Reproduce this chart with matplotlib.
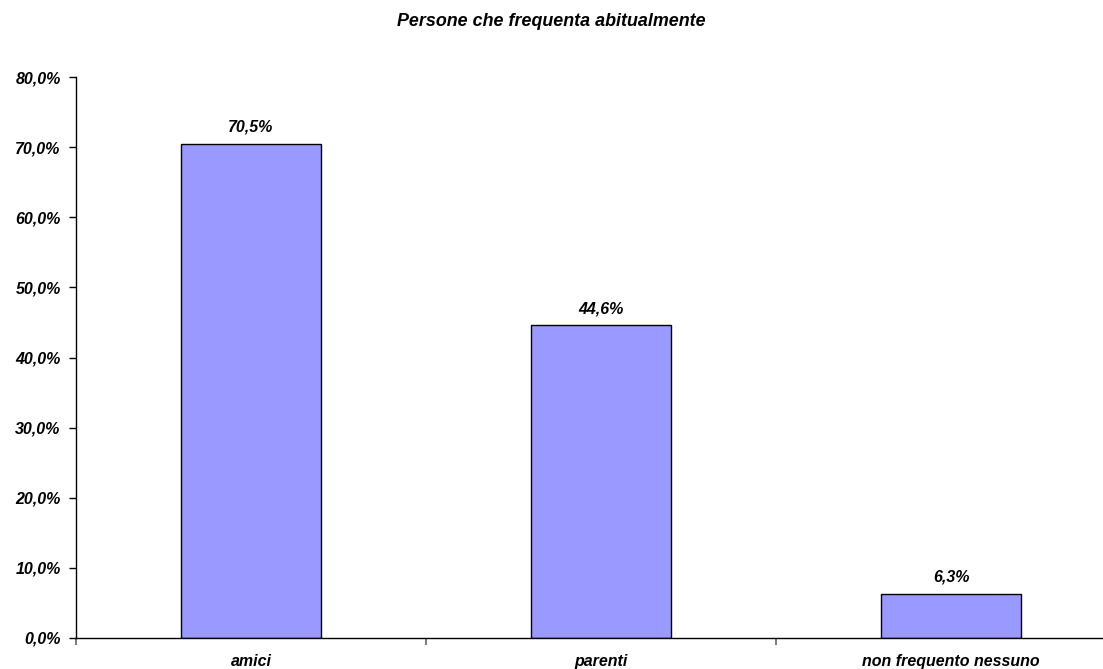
import matplotlib
matplotlib.use('Agg')
import matplotlib.pyplot as plt
import numpy as np

categorie = ['amici', 'parenti', 'non frequento nessuno']
valori = [70.5, 44.6, 6.3]
etichette = ['70,5%', '44,6%', '6,3%']
yticks = [0, 10, 20, 30, 40, 50, 60, 70, 80]
ytick_labels = ['%d,0%%' % v for v in yticks]

plt.rcParams['font.family'] = ['Liberation Sans', 'DejaVu Sans']

fig = plt.figure(figsize=(11.03, 6.69), dpi=100)
ax = fig.add_axes([76 / 1103, 31 / 669, 1050 / 1103, 561 / 669])

x = np.arange(len(categorie))
bars = ax.bar(x, valori, width=0.4, color='#9999FF', edgecolor='black', linewidth=1)

for b, lab in zip(bars, etichette):
    ax.text(b.get_x() + b.get_width() / 2, b.get_height() + 1.3, lab,
            ha='center', va='bottom', fontsize=11.5, fontweight='bold', style='italic')

ax.set_xlim(-0.5, len(categorie) - 0.5)
ax.set_ylim(0, 80)
ax.set_yticks(yticks)
ax.set_yticklabels(ytick_labels, fontsize=11.5, fontweight='bold', style='italic')
ax.tick_params(axis='y', direction='out', length=5, width=1, pad=6)

# categorie sotto l'asse, tick ai confini
ax.set_xticks(np.arange(len(categorie) + 1) - 0.5)
ax.set_xticklabels([])
ax.tick_params(axis='x', direction='out', length=5, width=1.5, color='#808080')
for i, c in enumerate(categorie):
    ax.text(i, -2.3, c, ha='center', va='top', fontsize=11.5, fontweight='bold', style='italic')

for s in ['top', 'right']:
    ax.spines[s].set_visible(False)
ax.spines['left'].set_linewidth(1)
ax.spines['bottom'].set_linewidth(1)

fig.text(0.5, 1 - 21 / 669, 'Persone che frequenta abitualmente', ha='center', va='center',
         fontsize=12.9, fontweight='bold', style='italic')

fig.savefig('out.png', dpi=100)
